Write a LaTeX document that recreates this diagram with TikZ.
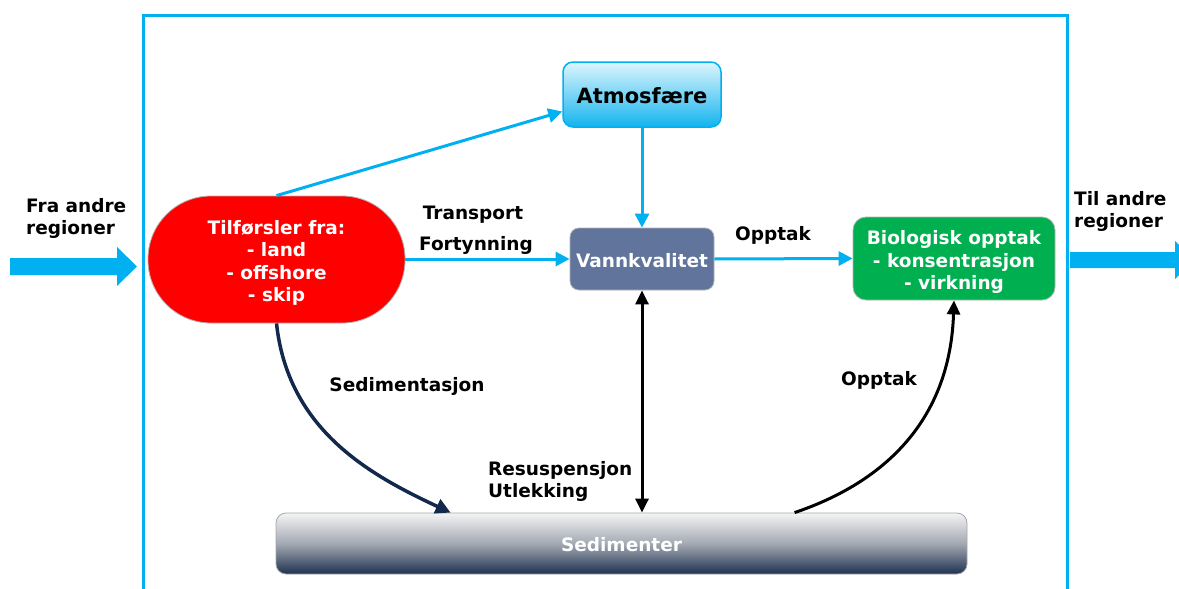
\documentclass[tikz,border=0pt]{standalone}
\usepackage{fontspec}
\setmainfont{DejaVu Sans}
\usetikzlibrary{arrows.meta,calc}
\definecolor{cyanb}{HTML}{00B0F0}
\definecolor{redb}{HTML}{FF0000}
\definecolor{vannc}{HTML}{60749C}
\definecolor{greenb}{HTML}{00B050}
\definecolor{navy}{HTML}{13294B}
\definecolor{sedtop}{HTML}{F4F4F4}
\definecolor{sedmid}{HTML}{A3A9B3}
\definecolor{sedbot}{HTML}{1F3150}
\definecolor{atmtop}{HTML}{DDF5FD}
\definecolor{atmbot}{HTML}{14B4EE}
\tikzset{
  lbl/.style={font=\bfseries\fontsize{18.5}{22}\selectfont, text=black, inner sep=0pt},
  boxtext/.style={font=\bfseries\fontsize{18.5}{22.3}\selectfont, text=white, align=center, inner sep=0pt},
  boxshape/.style={draw=gray!60, line width=0.8pt, inner sep=0pt},
  cyanarrow/.style={draw=cyanb, line width=3pt, -{Triangle[length=14pt,width=14pt]}},
  blackarrow/.style={draw=black, line width=3pt, -{Triangle[length=14pt,width=13pt]}},
}
\begin{document}
\begin{tikzpicture}[x=1pt,y=-1pt]
\useasboundingbox (0,0) rectangle (1179,589);
% frame
\draw[cyanb, line width=3pt] (143,600) -- (143,15) -- (1067,15) -- (1067,600);
% big arrows
\fill[cyanb] (10,258) -- (117,258) -- (117,247) -- (137,266.5) -- (117,286) -- (117,275) -- (10,275) -- cycle;
\fill[cyanb] (1070,252) -- (1175,252) -- (1175,241) -- (1195,260) -- (1175,279) -- (1175,268) -- (1070,268) -- cycle;
% nodes
\node[boxshape, minimum width=257pt, minimum height=127pt, rounded corners=63pt, fill=redb] (red) at (276.5,259.5) {};
\node[boxtext] (redtext) at ($(red.center)+(0,3.5)$) {Tilførsler fra:\\- land\\- offshore\\- skip};
\node[font=\bfseries\fontsize{21}{25}\selectfont, minimum width=158pt, minimum height=65pt, rounded corners=10pt, top color=atmtop, bottom color=atmbot, draw=cyanb, line width=1.5pt, inner sep=0pt] (atm) at (642,94.5) {};
\node[font=\bfseries\fontsize{21}{25}\selectfont, inner sep=0pt] (atmtext) at ($(atm.center)+(0,1.5)$) {Atmosfære};
\node[boxshape, minimum width=144pt, minimum height=62pt, rounded corners=9pt, fill=vannc] (vann) at (642,259) {};
\node[boxtext] (vanntext) at ($(vann.center)+(0,2)$) {Vannkvalitet};
\node[boxshape, minimum width=202pt, minimum height=83pt, rounded corners=13pt, fill=greenb] (bio) at (954,258.5) {};
\node[boxtext] (biotext) at ($(bio.center)+(0,3.5)$) {Biologisk opptak\\- konsentrasjon\\- virkning};
\node[boxshape, draw=gray!70, minimum width=691pt, minimum height=61pt, rounded corners=10pt, top color=sedtop, bottom color=sedbot, middle color=sedmid] (sed) at (621.5,543.5) {};
\node[boxtext] (sedtext) at ($(sed.center)+(0,1.5)$) {Sedimenter};
% connectors
\draw[cyanarrow] (red.north) -- ($(atm.west)+(0,17)$);
\draw[cyanarrow] (atm.south) -- (vann.north);
\draw[cyanarrow] (red.east |- vann.west) -- (vann.west);
\draw[cyanarrow] (vann.east) -- (bio.west);
\draw[draw=navy, line width=3.5pt, -{Triangle[length=15pt,width=15pt]}] (red.south) .. controls (288,430) and (370,475) .. ($(sed.north west)+(175,0)$);
\draw[draw=black, line width=3pt, {Triangle[length=14pt,width=13pt]}-{Triangle[length=14pt,width=13pt]}] (vann.south) -- (vann.south |- sed.north);
\draw[blackarrow] ($(sed.north west)+(519,0)$) .. controls (885,482) and (950,420) .. (bio.south);
% labels
\node[lbl, anchor=west, align=left] (fra) at (26,218) {Fra andre\\regioner};
\node[lbl, anchor=west, align=left] (til) at (1074,211.5) {Til andre\\regioner};
\node[lbl] (transport) at (473,215) {Transport};
\node[lbl] (fort) at (476,245) {Fortynning};
\node[lbl] (opp1) at (773,235) {Opptak};
\node[lbl] (sedl) at (407,386) {Sedimentasjon};
\node[lbl, anchor=west, align=left] (resus) at (488,481.5) {Resuspensjon\\Utlekking};
\node[lbl] (opp2) at (879,380) {Opptak};
\end{tikzpicture}
\end{document}
